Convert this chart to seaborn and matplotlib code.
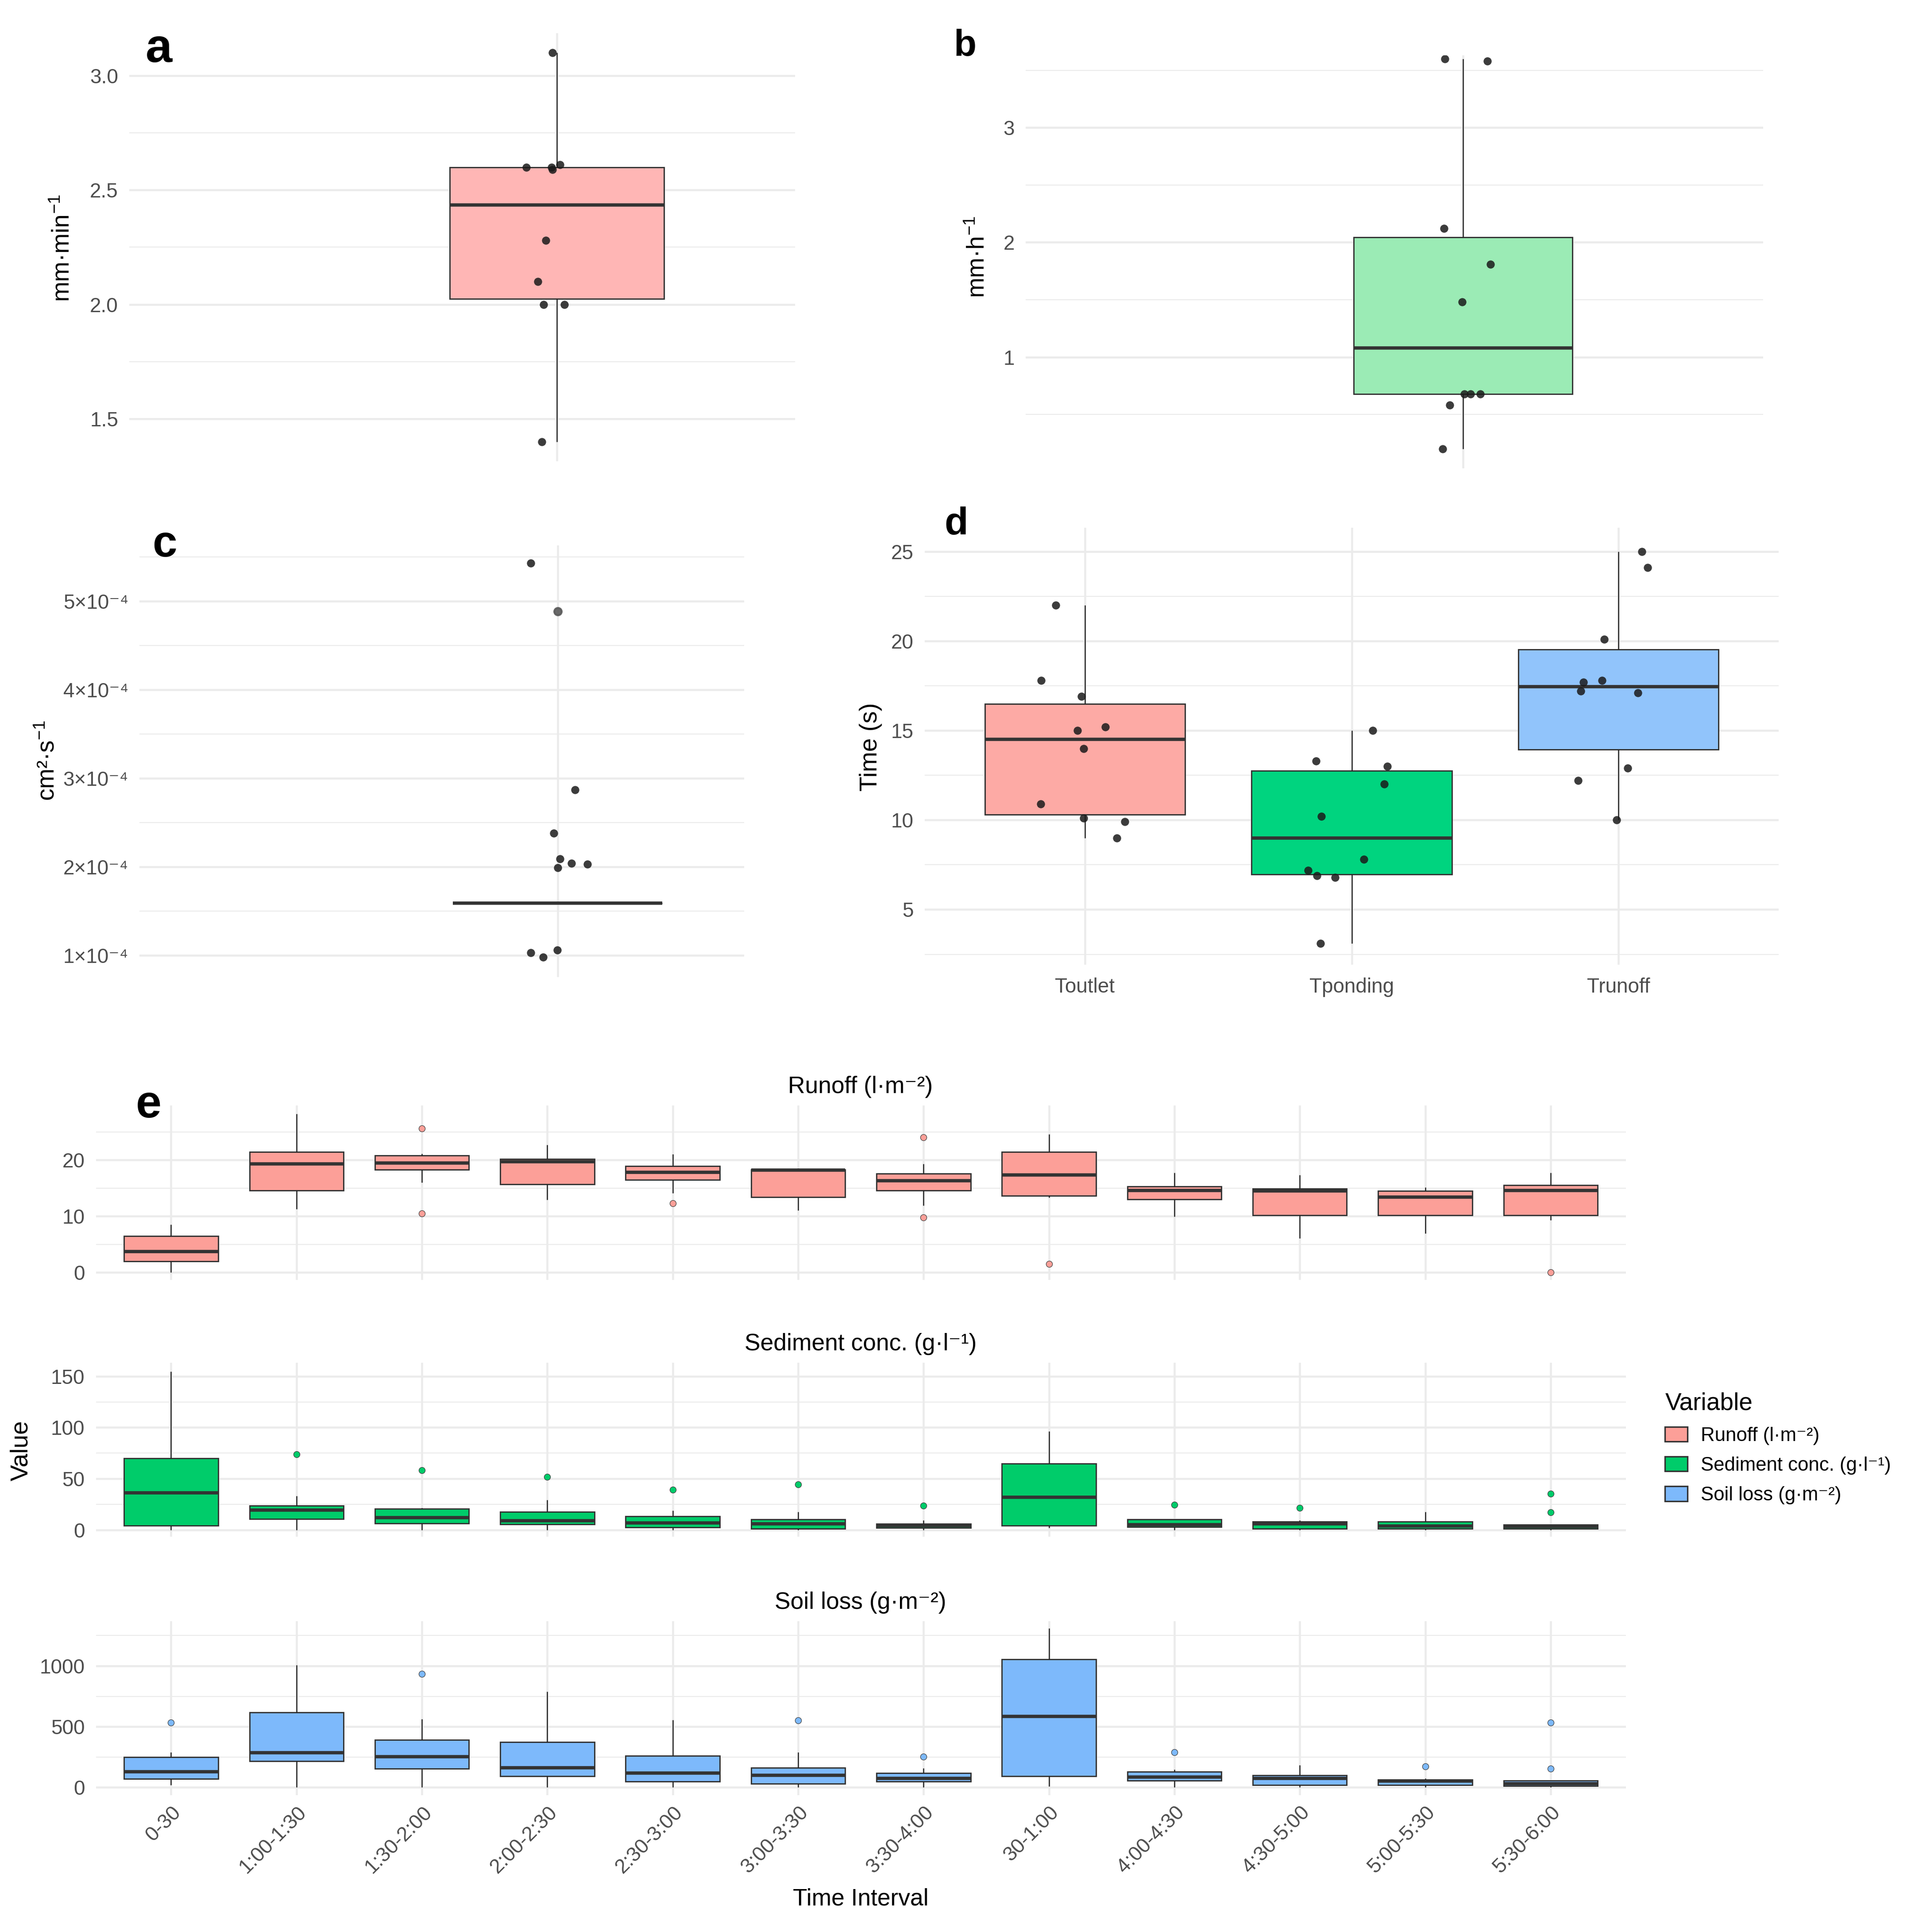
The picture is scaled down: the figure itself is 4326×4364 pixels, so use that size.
import numpy as np
import pandas as pd
import matplotlib
matplotlib.use("Agg")
import matplotlib.pyplot as plt
import seaborn as sns
from matplotlib.patches import Patch

sns.set_theme(style="white")
plt.rcParams["font.family"] = ["Liberation Sans", "DejaVu Sans"]
plt.rcParams["mathtext.fontset"] = "custom"
plt.rcParams["mathtext.rm"] = "Liberation Sans"
plt.rcParams["mathtext.it"] = "Liberation Sans:italic"
plt.rcParams["text.color"] = "black"

# --- datos ---

# a) mm·min-1
panel_a = [3.10, 2.60, 2.61, 2.59, 2.60, 2.28, 2.10, 2.00, 2.00, 1.40]
# b) mm·h-1
panel_b = [3.60, 3.58, 2.12, 1.81, 1.48, 0.68, 0.68, 0.68, 0.58, 0.20]
# c) cm2·s-1 (puntos) y caja degenerada (mediana + atipico gris)
panel_c = [5.43e-4, 2.87e-4, 2.38e-4, 2.04e-4, 2.03e-4, 2.09e-4, 1.99e-4,
           1.03e-4, 0.98e-4, 1.06e-4]
panel_c_box = [1.59e-4, 1.59e-4, 1.59e-4, 1.59e-4, 4.885e-4]
c_ticks = [1e-4, 2e-4, 3e-4, 4e-4, 5e-4]
c_tick_labels = ["1×10⁻⁴", "2×10⁻⁴", "3×10⁻⁴", "4×10⁻⁴", "5×10⁻⁴"]

# d) tiempos (s)
times = ["Toutlet", "Tponding", "Trunoff"]
toutlet = [22.0, 17.8, 16.9, 15.2, 15.0, 14.0, 10.9, 10.1, 9.9, 9.0]
tponding = [15.0, 13.3, 13.0, 12.0, 10.2, 7.8, 7.2, 6.9, 6.8, 3.1]
trunoff = [25.0, 24.1, 20.1, 17.8, 17.7, 17.2, 17.1, 12.9, 12.2, 10.0]

# e) por intervalo de tiempo
intervals = ["0-30", "1:00-1:30", "1:30-2:00", "2:00-2:30", "2:30-3:00",
             "3:00-3:30", "3:30-4:00", "30-1:00", "4:00-4:30", "4:30-5:00",
             "5:00-5:30", "5:30-6:00"]
runoff = [
    [0.0, 1.2, 2.0, 3.0, 3.7, 5.0, 6.5, 7.6, 8.5],
    [11.3, 13.0, 14.6, 17.5, 19.3, 20.5, 21.4, 24.0, 28.2],
    [10.5, 16.0, 18.3, 19.0, 19.5, 20.2, 20.8, 21.1, 25.6],
    [12.9, 14.5, 15.7, 18.0, 19.7, 19.9, 20.2, 21.5, 22.7],
    [12.3, 14.1, 16.5, 17.2, 17.8, 18.4, 18.9, 20.0, 21.0],
    [11.0, 12.5, 13.4, 16.0, 18.2, 18.25, 18.3, 18.4, 18.5],
    [9.8, 11.9, 14.6, 15.5, 16.3, 17.0, 17.6, 19.3, 24.0],
    [1.5, 13.3, 13.6, 15.5, 17.3, 19.5, 21.4, 23.0, 24.6],
    [9.95, 12.0, 13.0, 14.0, 14.6, 15.0, 15.3, 16.5, 17.7],
    [6.05, 8.0, 10.2, 12.5, 14.5, 14.7, 14.9, 16.0, 17.3],
    [6.96, 8.5, 10.2, 12.0, 13.4, 14.0, 14.5, 14.8, 15.1],
    [0.0, 9.3, 10.2, 12.5, 14.6, 15.0, 15.5, 16.5, 17.7],
]
sediment = [
    [0.3, 2.0, 4.6, 20.0, 36.3, 50.0, 69.8, 100.0, 154.7],
    [0.3, 8.0, 10.9, 15.0, 19.6, 22.0, 23.9, 33.5, 73.8],
    [0.3, 4.0, 6.8, 9.0, 12.2, 17.0, 20.9, 21.9, 58.3],
    [0.3, 3.0, 5.6, 7.5, 9.1, 13.0, 17.6, 29.4, 52.0],
    [0.3, 1.5, 2.6, 5.0, 7.1, 10.0, 13.4, 19.0, 39.3],
    [0.3, 0.8, 1.4, 3.5, 6.0, 8.0, 10.4, 17.7, 44.6],
    [0.3, 1.5, 2.3, 3.5, 4.3, 5.0, 6.2, 9.5, 23.7],
    [2.3, 3.5, 4.6, 20.0, 32.0, 50.0, 64.8, 80.0, 96.3],
    [0.3, 2.0, 3.3, 4.5, 5.5, 8.0, 10.5, 10.5, 24.6],
    [0.3, 0.9, 1.4, 4.0, 6.0, 7.0, 8.3, 9.5, 21.6],
    [0.3, 0.9, 1.4, 2.5, 4.0, 6.0, 8.3, 12.0, 17.7],
    [0.3, 0.8, 1.2, 2.5, 3.5, 4.5, 5.3, 17.3, 35.3],
]
soil_loss = [
    [18, 40, 70, 100, 129, 200, 250, 288, 533],
    [0, 150, 216, 260, 286, 450, 619, 800, 1006],
    [0, 80, 154, 200, 252, 320, 392, 564, 934],
    [0, 50, 92, 130, 163, 250, 375, 500, 790],
    [0, 20, 50, 90, 118, 200, 262, 400, 555],
    [0, 15, 31, 70, 101, 130, 163, 288, 553],
    [0, 30, 48, 60, 74, 100, 118, 158, 252],
    [8, 50, 93, 300, 586, 800, 1055, 1200, 1309],
    [0, 30, 57, 70, 84, 100, 128, 146, 288],
    [0, 10, 21, 50, 74, 90, 101, 140, 184],
    [0, 10, 21, 40, 52, 60, 65, 73, 173],
    [0, 5, 12, 20, 31, 45, 57, 156, 533],
]
variables = ["Runoff (l·m⁻²)", "Sediment conc. (g·l⁻¹)", "Soil loss (g·m⁻²)"]

# --- estilo ---
W, H, DPI = 4326, 4364, 300
GRID = "#EBEBEB"
LINE = "#333333"
TICK = "#4D4D4D"
TICK_FS = 11
TITLE_FS = 13.2

fig = plt.figure(figsize=(W / DPI, H / DPI), dpi=DPI)


def px_axes(x0, y0, x1, y1):
    """Ejes a partir de coordenadas en pixeles (origen arriba a la izquierda)."""
    return fig.add_axes([x0 / W, 1 - y1 / H, (x1 - x0) / W, (y1 - y0) / H])


def gg_style(ax, minor_step=None):
    for s in ax.spines.values():
        s.set_visible(False)
    ax.set_axisbelow(True)
    ax.grid(True, which="major", axis="both", color=GRID, lw=1.1)
    if minor_step is not None:
        ax.yaxis.set_minor_locator(matplotlib.ticker.MultipleLocator(minor_step))
        ax.grid(True, which="minor", axis="y", color=GRID, lw=0.55)
    ax.tick_params(which="both", length=0, labelsize=TICK_FS, labelcolor=TICK, pad=6)
    ax.set_xlabel("")
    ax.set_ylabel("")


box_kws = dict(saturation=1, linecolor=LINE, linewidth=0.7, showcaps=False,
               medianprops=dict(linewidth=1.8, color=LINE),
               whiskerprops=dict(linewidth=0.6, color="#222222"))
pt_kws = dict(color="#1A1A1A", alpha=0.85, size=4.4, zorder=4)

# --- panel a ---
ax = px_axes(292, 75, 1796, 1042)
sns.boxplot(y=panel_a, color="#FFB6B5", width=0.4, showfliers=False, ax=ax, **box_kws)
np.random.seed(2)
sns.stripplot(y=panel_a, jitter=0.06, ax=ax, **pt_kws)
gg_style(ax, 0.25)
ax.set_xticks([0])
ax.set_xticklabels([""])
ax.set_xlim(-0.798, 0.445)
ax.set_ylim(1.315, 3.185)
ax.set_yticks([1.5, 2.0, 2.5, 3.0])
fig.text(143 / W, 1 - 560 / H, r"mm·min$^{-1}$", rotation=90, ha="center", va="center",
         fontsize=TITLE_FS)

# --- panel b ---
ax = px_axes(2317, 125, 3983, 1058)
sns.boxplot(y=panel_b, color="#9BEBB5", width=0.4, showfliers=False, ax=ax, **box_kws)
np.random.seed(5)
sns.stripplot(y=panel_b, jitter=0.06, ax=ax, **pt_kws)
gg_style(ax, 0.5)
ax.set_xticks([0])
ax.set_xticklabels([""])
ax.set_xlim(-0.80, 0.549)
ax.set_ylim(0.03, 3.63)
ax.set_yticks([1, 2, 3])
fig.text(2210 / W, 1 - 580 / H, r"mm·h$^{-1}$", rotation=90, ha="center", va="center",
         fontsize=TITLE_FS)

# --- panel c ---
ax = px_axes(315, 1232, 1681, 2207)
sns.boxplot(y=panel_c_box, color="white", width=0.4, ax=ax, fliersize=4.0,
            flierprops=dict(marker="o", markerfacecolor="#5A5A5A",
                            markeredgecolor="#5A5A5A", alpha=0.9), **box_kws)
np.random.seed(7)
sns.stripplot(y=panel_c, jitter=0.06, ax=ax, **pt_kws)
gg_style(ax, 0.5e-4)
ax.set_xticks([0])
ax.set_xticklabels([""])
ax.set_xlim(-0.80, 0.357)
ax.set_ylim(0.755e-4, 5.63e-4)
ax.set_yticks(c_ticks)
ax.set_yticklabels(c_tick_labels)
fig.text(108 / W, 1 - 1718 / H, r"cm²·s$^{-1}$", rotation=90, ha="center", va="center",
         fontsize=TITLE_FS)

# --- panel d ---
df_d = pd.DataFrame({
    "var": np.repeat(times, [len(toutlet), len(tponding), len(trunoff)]),
    "value": toutlet + tponding + trunoff,
})
ax = px_axes(2089, 1192, 4018, 2179)
sns.boxplot(data=df_d, x="var", y="value", hue="var", order=times, hue_order=times,
            palette=["#FDAAA5", "#00D47F", "#91C4FB"], width=0.75, legend=False,
            showfliers=False, ax=ax, **box_kws)
np.random.seed(11)
sns.stripplot(data=df_d, x="var", y="value", order=times, jitter=0.17, ax=ax, **pt_kws)
gg_style(ax, 2.5)
ax.set_xlim(-0.6, 2.6)
ax.set_ylim(1.92, 26.33)
ax.set_yticks([5, 10, 15, 20, 25])
ax.tick_params(axis="x", pad=7)
fig.text(1967 / W, 1 - 1687 / H, "Time (s)", rotation=90, ha="center", va="center",
         fontsize=TITLE_FS)

# --- panel e ---
rows = [
    (runoff, "#FC9F98", (2497, 2891), (-1.33, 29.7), [0, 10, 20], 5),
    (sediment, "#00CC6A", (3078, 3471), (-6.35, 163.2), [0, 50, 100, 150], 25),
    (soil_loss, "#7DB9FB", (3662, 4055), (-64, 1368), [0, 500, 1000], 250),
]
for i, (vals, col, (top, bottom), ylim, yticks, minor) in enumerate(rows):
    df_e = pd.DataFrame({
        "interval": np.repeat(intervals, [len(v) for v in vals]),
        "value": np.concatenate(vals),
    })
    ax = px_axes(216.5, top, 3672.8, bottom)
    sns.boxplot(data=df_e, x="interval", y="value", order=intervals, color=col,
                width=0.75, fliersize=3.4,
                flierprops=dict(marker="o", markerfacecolor=col, markeredgecolor="#444444",
                                markeredgewidth=0.3),
                ax=ax, **box_kws)
    gg_style(ax, minor)
    ax.set_xlim(-0.6, 11.6)
    ax.set_ylim(*ylim)
    ax.set_yticks(yticks)
    if i < 2:
        ax.tick_params(axis="x", labelbottom=False)
    else:
        ax.tick_params(axis="x", pad=4)
        for lab in ax.get_xticklabels():
            lab.set_rotation(45)
            lab.set_ha("right")
            lab.set_va("top")
            lab.set_rotation_mode("anchor")
    fig.text(1944 / W, 1 - (top - 42) / H, variables[i], ha="center", va="center",
             fontsize=12.8)

fig.text(48 / W, 1 - 3277 / H, "Value", rotation=90, ha="center", va="center",
         fontsize=TITLE_FS)
fig.text(1944 / W, 1 - 4290 / H, "Time Interval", ha="center", va="center",
         fontsize=12.8)

handles = [Patch(facecolor=c, edgecolor=LINE, linewidth=0.8)
           for c in ["#FC9F98", "#00CC6A", "#7DB9FB"]]
fig.legend(handles, variables, title="Variable", loc="upper left",
           bbox_to_anchor=(3722 / W, 1 - 3105 / H), frameon=False,
           fontsize=10.5, title_fontsize=TITLE_FS, alignment="left",
           handlelength=1.15, handleheight=0.8, handletextpad=0.7, labelspacing=0.6)

# --- letras de panel ---
for letter, x, y, fs in [("a", 359, 140, 26), ("b", 2180, 125, 20), ("c", 372, 1257, 24),
                         ("d", 2160, 1207, 21), ("e", 336, 2524, 25)]:
    fig.text(x / W, 1 - y / H, letter, ha="center", va="baseline",
             fontsize=fs, fontweight="bold", color="black")

fig.savefig("out.png", dpi=DPI)
